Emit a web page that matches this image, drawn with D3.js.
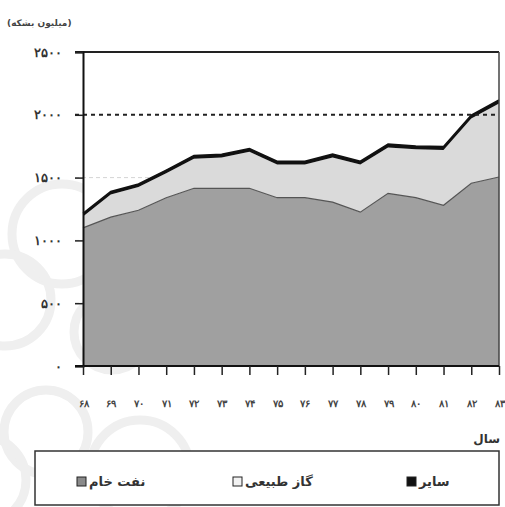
<!DOCTYPE html>
<html>
<head>
<meta charset="utf-8">
<script src="https://cdn.jsdelivr.net/npm/d3@7"></script>
<style>
  body { margin: 0; background: #fff; }
  svg { display: block; font-family: "DejaVu Sans", sans-serif; }
</style>
</head>
<body>
<svg id="chart" width="505" height="507"></svg>
<script>
const years = ["68", "69", "70", "71", "72", "73", "74", "75", "76", "77", "78", "79", "80", "81", "82", "83"];
const oil = [1100, 1185, 1240, 1340, 1415, 1415, 1415, 1340, 1340, 1305, 1225, 1375, 1340, 1280, 1455, 1505];
const gas = [90, 180, 185, 195, 235, 245, 290, 265, 265, 355, 380, 365, 385, 440, 515, 585];
const other = [25, 25, 24, 25, 26, 26, 27, 26, 26, 27, 26, 27, 27, 27, 28, 28];
const yTicks = [0, 500, 1000, 1500, 2000, 2500];
const seriesNames = ["نفت خام", "گاز طبیعی", "سایر"];
const unitLabel = "(میلیون بشکه)";
const xTitle = "سال";

const fa = (s) => String(s).replace(/[0-9]/g, (d) => "۰۱۲۳۴۵۶۷۸۹"[d]);

const rows = years.map((yr, i) => ({ year: yr, oil: oil[i], gas: gas[i], other: other[i] }));
const stack = d3.stack().keys(["oil", "gas", "other"])(rows);

const svg = d3.select("#chart");

// faint watermark behind the chart
const rings = [
  [62, 234, 50], [5, 300, 46], [46, 432, 42], [140, 470, 50], [-18, 480, 44], [112, 332, 38],
];
svg.append("g")
  .selectAll("circle")
  .data(rings)
  .enter()
  .append("circle")
  .attr("cx", (d) => d[0])
  .attr("cy", (d) => d[1])
  .attr("r", (d) => d[2])
  .style("fill", "none")
  .style("stroke", "#efefef")
  .style("stroke-width", 9);

const x = d3.scalePoint().domain(years).range([83, 499]);
const y = d3.scaleLinear().domain([0, 2500]).range([366, 52]);

svg.append("rect")
  .attr("x", 83).attr("y", 52)
  .attr("width", 416).attr("height", 314)
  .style("fill", "#fff");

// light grid lines
svg.append("g")
  .selectAll("line")
  .data([500, 1000, 1500])
  .enter()
  .append("line")
  .attr("x1", 75).attr("x2", 499)
  .attr("y1", (d) => y(d)).attr("y2", (d) => y(d))
  .style("stroke", "#d4d4d4")
  .style("stroke-dasharray", "4,3");

const colors = ["#a0a0a0", "#dadada", "#111"];
const area = d3.area()
  .x((d) => x(d.data.year))
  .y0((d) => y(d[0]))
  .y1((d) => y(d[1]));

svg.append("g")
  .selectAll("path")
  .data(stack)
  .enter()
  .append("path")
  .attr("d", area)
  .style("fill", (d, i) => colors[i]);

// edge between oil and gas
svg.append("path")
  .datum(stack[0])
  .attr("d", d3.line().x((d) => x(d.data.year)).y((d) => y(d[1])))
  .style("fill", "none")
  .style("stroke", "#555")
  .style("stroke-width", 1.2);

svg.append("path")
  .datum(stack[2])
  .attr("d", d3.line().x((d) => x(d.data.year)).y((d) => y(d[1])))
  .style("fill", "none")
  .style("stroke", "#111")
  .style("stroke-width", 1.5);

// 2000 reference line
svg.append("line")
  .attr("x1", 75).attr("x2", 499)
  .attr("y1", y(2000)).attr("y2", y(2000))
  .style("stroke", "#222")
  .style("stroke-width", 2)
  .style("stroke-dasharray", "4,4");

// frame
svg.append("line")
  .attr("x1", 75).attr("x2", 499)
  .attr("y1", y(2500)).attr("y2", y(2500))
  .style("stroke", "#222").style("stroke-width", 2);
svg.append("line")
  .attr("x1", 499).attr("x2", 499)
  .attr("y1", y(2500)).attr("y2", y(0))
  .style("stroke", "#444").style("stroke-width", 1.5);

const yAxis = svg.append("g")
  .attr("transform", "translate(83,0)")
  .call(d3.axisLeft(y).tickValues(yTicks).tickSize(8).tickPadding(13).tickFormat(fa));
yAxis.select(".domain").style("stroke", "#111").style("stroke-width", 2);
yAxis.selectAll(".tick line").style("stroke", "#222").style("stroke-width", 1.5);
yAxis.selectAll("text")
  .style("font-size", "13px")
  .style("font-weight", "bold")
  .style("letter-spacing", "3px")
  .style("fill", "#333");

const xAxis = svg.append("g")
  .attr("transform", `translate(0,${y(0)})`)
  .call(d3.axisBottom(x).tickSize(9).tickPadding(25).tickFormat(fa));
xAxis.select(".domain").attr("d", "M75,0H499").style("stroke", "#111").style("stroke-width", 2);
xAxis.selectAll(".tick line").style("stroke", "#222").style("stroke-width", 1.5);
xAxis.selectAll("text")
  .style("font-size", "10px")
  .style("font-weight", "bold")
  .style("letter-spacing", "1px")
  .style("fill", "#444");

svg.append("text")
  .attr("x", 7).attr("y", 26)
  .style("font-size", "9px")
  .style("font-weight", "bold")
  .style("fill", "#444")
  .text(unitLabel);

svg.append("text")
  .attr("x", 500).attr("y", 443)
  .attr("text-anchor", "end")
  .style("font-size", "12px")
  .style("font-weight", "bold")
  .style("fill", "#333")
  .text(xTitle);

// legend
const legend = svg.append("g");
legend.append("rect")
  .attr("x", 35).attr("y", 451)
  .attr("width", 464).attr("height", 54)
  .style("fill", "#fff")
  .style("stroke", "#333")
  .style("stroke-width", 1.5);

const legendX = [77, 233, 407];
const swatchFill = ["#8a8a8a", "#f2f2f2", "#111"];
const items = legend.selectAll("g.item")
  .data(seriesNames)
  .enter()
  .append("g")
  .attr("class", "item")
  .attr("transform", (d, i) => `translate(${legendX[i]},477)`);
items.append("rect")
  .attr("width", 9).attr("height", 9)
  .style("fill", (d, i) => swatchFill[i])
  .style("stroke", "#222")
  .style("stroke-width", 1);
items.append("text")
  .attr("x", 12).attr("y", 9)
  .style("font-size", "13px")
  .style("font-weight", "bold")
  .style("fill", "#333")
  .text((d) => d);
</script>
</body>
</html>
